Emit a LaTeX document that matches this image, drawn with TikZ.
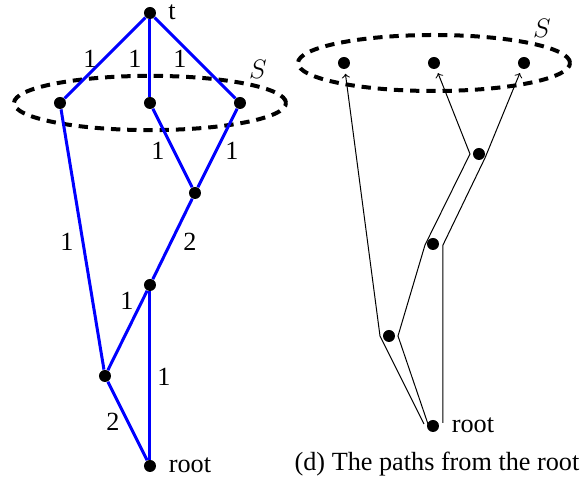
\documentclass[tikz,border=0pt]{standalone}
\usepackage{fontspec}
\setmainfont{Liberation Serif}
\usetikzlibrary{calc}
\tikzset{
  dot/.style={circle, fill=black, inner sep=0pt, minimum size=5.4pt},
  weight/.style={inner sep=0pt},
  cut/.style={line width=1.8pt, dash pattern=on 4.2pt off 3.1pt},
  tree/.style={blue, line width=1.35pt},
  walk/.style={->, line width=0.45pt, shorten >=2pt}
}

\begin{document}
\begin{tikzpicture}[x=0.45pt, y=-0.45pt, font=\fontsize{11.8}{14}\selectfont]
  \useasboundingbox (0,0) rectangle (584,478);

  % Nodes
  \node[dot] (T) at (150,13) {};
  \node[dot] (S1) at (60,103) {};
  \node[dot] (S2) at (150,103) {};
  \node[dot] (S3) at (240,103) {};
  \node[dot] (A) at (195,193) {};
  \node[dot] (B) at (150,285) {};
  \node[dot] (C) at (105,376) {};
  \node[dot] (R) at (150,466) {};
  \node (Tlab) at (172,12) {t};
  \node (Rlab) at (190,465) {root};
  \node (Slab) at (258,69) {$S$};

  % Cut
  \draw[cut] (S2) ellipse [x radius=61.2pt, y radius=12.2pt];

  % Edges
  \draw[tree] (T) -- (S1);
  \draw[tree] (T) -- (S2);
  \draw[tree] (T) -- (S3);
  \draw[tree] (S1) -- (C);
  \draw[tree] (S2) -- (A);
  \draw[tree] (S3) -- (A);
  \draw[tree] (A) -- (B);
  \draw[tree] (B) -- (C);
  \draw[tree] (B) -- (R);
  \draw[tree] (C) -- (R);

  % Weights
  \node[weight] (w1) at (90,59) {1};
  \node[weight] (w2) at (135,59) {1};
  \node[weight] (w3) at (180,59) {1};
  \node[weight] (w4) at (158,151) {1};
  \node[weight] (w5) at (232,151) {1};
  \node[weight] (w6) at (67,242) {1};
  \node[weight] (w7) at (190,242) {2};
  \node[weight] (w8) at (127,301) {1};
  \node[weight] (w9) at (164,377) {1};
  \node[weight] (w10) at (113,422) {2};

  % Paths
  \node[dot] (U1) at (344,63) {};
  \node[dot] (U2) at (434,63) {};
  \node[dot] (U3) at (524,63) {};
  \node[dot] (V1) at (479,154) {};
  \node[dot] (V2) at (433,244) {};
  \node[dot] (V3) at (389,336) {};
  \node[dot] (R2) at (433,426) {};
  \node (R2lab) at (473,425) {root};
  \node (S2lab) at (542,28) {$S$};
  \node (cap) at (437,464) {(d) The paths from the root};

  \draw[cut] (U2) ellipse [x radius=61.2pt, y radius=12.6pt];

  \draw[walk] ($(R2)+(-9,-2)$) -- ($(V3)+(-9,0)$) -- (U1);
  \draw[walk] ($(R2)+(-4,1)$) -- ($(V3)+(9,0)$) -- ($(V2)+(-8,1)$) -- ($(V1)+(-9,0)$) -- (U2);
  \draw[walk] ($(R2)+(10,-3)$) -- ($(V2)+(10,1)$) -- ($(V1)+(6,4)$) -- (U3);
\end{tikzpicture}
\end{document}
